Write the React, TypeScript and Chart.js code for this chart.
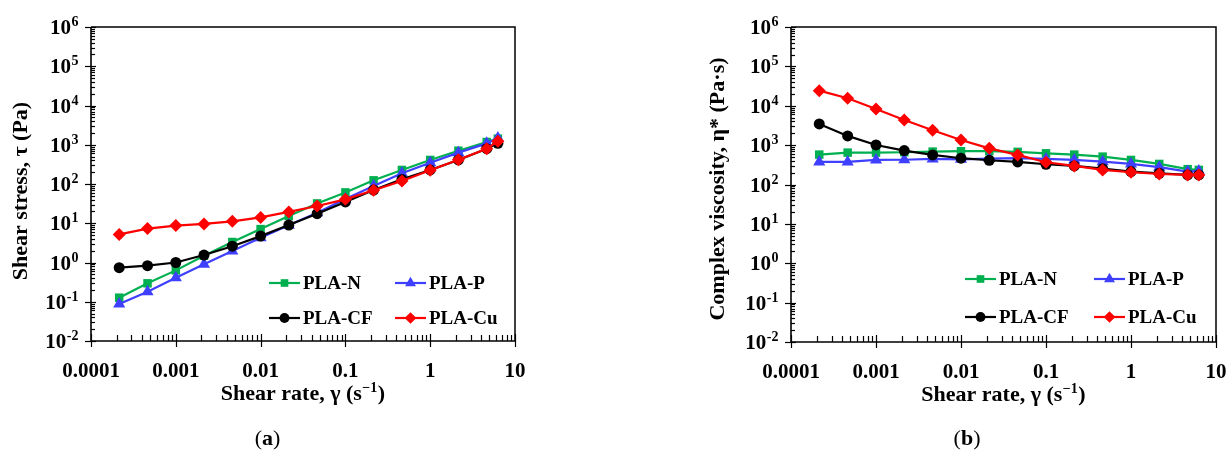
import React, { useEffect, useRef } from "react";
import { Chart, registerables } from "chart.js";
Chart.register(...registerables);

// ---------- data ----------
const shearRate = [0.000215, 0.000464, 0.001, 0.00215, 0.00464, 0.01, 0.0215, 0.0464, 0.1, 0.215, 0.464, 1, 2.15, 4.64, 6.28];

const stressN = [0.127, 0.295, 0.63, 1.49, 3.33, 7.1, 15.3, 32, 61, 124, 228, 410, 705, 1175, 1430];
const stressP = [0.088, 0.18, 0.41, 0.9, 1.96, 4.3, 8.9, 18.6, 41.6, 89, 187, 349, 630, 1085, 1480];
const stressCF = [0.74, 0.83, 1.0, 1.55, 2.6, 4.7, 9.0, 17.5, 35, 70, 131, 228, 410, 795, 1085];
const stressCu = [5.2, 7.3, 8.7, 9.6, 11.2, 14.1, 19.4, 27.5, 40.6, 69, 119, 224, 416, 795, 1225];

const viscN = [575, 645, 645, 660, 685, 700, 700, 675, 620, 575, 510, 420, 333, 245, 235];
const viscP = [375, 375, 420, 425, 445, 435, 455, 465, 445, 420, 380, 333, 275, 213, 221];
const viscCF = [3450, 1715, 1010, 725, 565, 465, 413, 375, 327, 296, 253, 213, 193, 175, 175];
const viscCu = [24200, 15500, 8300, 4370, 2390, 1355, 830, 565, 368, 296, 234, 205, 185, 175, 175];

const seriesNames = ["PLA-N", "PLA-P", "PLA-CF", "PLA-Cu"];
const seriesColors = ["#00B050", "#3F3FFF", "#000000", "#FF0000"];
const pointStyles = ["rect", "triangle", "circle", "rectRot"];
const pointRadii = [6, 7, 5.5, 6.5];

const xTickLabels = ["0.0001", "0.001", "0.01", "0.1", "1", "10"];
const yExponents = [-2, -1, 0, 1, 2, 3, 4, 5, 6];

const SERIF = '"Liberation Serif", "Times New Roman", serif';

// ---------- helpers ----------
function drawMarker(ctx: CanvasRenderingContext2D, style: string, x: number, y: number, r: number, color: string) {
  ctx.save();
  ctx.fillStyle = color;
  ctx.beginPath();
  if (style === "rect") {
    const s = r * Math.SQRT1_2;
    ctx.rect(x - s, y - s, 2 * s, 2 * s);
  } else if (style === "triangle") {
    ctx.moveTo(x, y - r);
    ctx.lineTo(x + r * Math.sin(Math.PI * 2 / 3), y - r * Math.cos(Math.PI * 2 / 3));
    ctx.lineTo(x - r * Math.sin(Math.PI * 2 / 3), y - r * Math.cos(Math.PI * 2 / 3));
    ctx.closePath();
  } else if (style === "circle") {
    ctx.arc(x, y, r, 0, Math.PI * 2);
  } else {
    ctx.moveTo(x, y - r);
    ctx.lineTo(x + r, y);
    ctx.lineTo(x, y + r);
    ctx.lineTo(x - r, y);
    ctx.closePath();
  }
  ctx.fill();
  ctx.restore();
}

type PanelCfg = {
  key: string;
  yTitle: string;
  yTitleX: number;
  yTitleY: number;
  legendCols: number[];
  legendRows: number[];
};

function makePlugin(cfg: PanelCfg) {
  return {
    id: "decor" + cfg.key,
    beforeDatasetsDraw(chart: any) {
      const ctx: CanvasRenderingContext2D = chart.ctx;
      const a = chart.chartArea;
      const xs = chart.scales.x;
      const ys = chart.scales.y;
      ctx.save();
      // frame
      ctx.strokeStyle = "#000";
      ctx.lineWidth = 1.5;
      ctx.beginPath();
      ctx.moveTo(a.left, a.top);
      ctx.lineTo(a.right, a.top);
      ctx.lineTo(a.right, a.bottom);
      ctx.stroke();
      ctx.lineWidth = 1.6;
      ctx.beginPath();
      ctx.moveTo(a.left, a.top);
      ctx.lineTo(a.left, a.bottom);
      ctx.lineTo(a.right, a.bottom);
      ctx.stroke();
      // x ticks
      ctx.lineWidth = 1.2;
      const xMin = xs.min, xMax = xs.max;
      for (let k = Math.floor(Math.log10(xMin)); k <= Math.ceil(Math.log10(xMax)); k++) {
        for (let m = 1; m <= 9; m++) {
          const v = m * Math.pow(10, k);
          if (v < xMin * 0.999 || v > xMax * 1.001) continue;
          const px = Math.round(xs.getPixelForValue(v)) + 0.5;
          ctx.beginPath();
          if (m === 1) {
            ctx.moveTo(px, a.bottom - 7);
            ctx.lineTo(px, a.bottom + 6);
          } else {
            ctx.moveTo(px, a.bottom - 6);
            ctx.lineTo(px, a.bottom);
          }
          ctx.stroke();
        }
      }
      // y ticks
      const yMin = ys.min, yMax = ys.max;
      for (let k = Math.floor(Math.log10(yMin)); k <= Math.ceil(Math.log10(yMax)); k++) {
        for (let m = 1; m <= 9; m++) {
          const v = m * Math.pow(10, k);
          if (v < yMin * 0.999 || v > yMax * 1.001) continue;
          const py = Math.round(ys.getPixelForValue(v)) + 0.5;
          ctx.beginPath();
          if (m === 1) {
            ctx.moveTo(a.left - 6, py);
            ctx.lineTo(a.left + 5, py);
          } else {
            ctx.moveTo(a.left, py);
            ctx.lineTo(a.left + 4, py);
          }
          ctx.stroke();
        }
      }
      ctx.restore();
    },
    afterDraw(chart: any) {
      const ctx: CanvasRenderingContext2D = chart.ctx;
      const a = chart.chartArea;
      const xs = chart.scales.x;
      const ys = chart.scales.y;
      ctx.save();
      ctx.fillStyle = "#000";
      // x tick labels
      ctx.font = `bold 21px ${SERIF}`;
      ctx.textAlign = "center";
      ctx.textBaseline = "middle";
      xTickLabels.forEach((lab) => {
        const px = xs.getPixelForValue(Number(lab));
        ctx.fillText(lab, px, a.bottom + 31);
      });
      // y tick labels
      yExponents.forEach((e) => {
        const py = ys.getPixelForValue(Math.pow(10, e));
        const expStr = e < 0 ? "-" + Math.abs(e) : String(e);
        ctx.font = `bold 21px ${SERIF}`;
        const wb = ctx.measureText("10").width;
        ctx.font = `bold 14px ${SERIF}`;
        const we = ctx.measureText(expStr).width;
        const right = a.left - 13;
        const x0 = right - we - wb;
        ctx.textAlign = "left";
        ctx.textBaseline = "alphabetic";
        ctx.font = `bold 21px ${SERIF}`;
        ctx.fillText("10", x0, py + 7);
        ctx.font = `bold 14px ${SERIF}`;
        ctx.fillText(expStr, x0 + wb + 0.5, py - 1);
      });
      // x title with superscript
      {
        const p1 = "Shear rate, \u03B3 (s";
        const p2 = "\u22121";
        const p3 = ")";
        ctx.font = `bold 22px ${SERIF}`;
        const w1 = ctx.measureText(p1).width;
        const w3 = ctx.measureText(p3).width;
        ctx.font = `bold 14px ${SERIF}`;
        const w2 = ctx.measureText(p2).width;
        const total = w1 + w2 + w3 + 1;
        const cx = (a.left + a.right) / 2;
        let x = cx - total / 2;
        const base = a.bottom + 59;
        ctx.textAlign = "left";
        ctx.textBaseline = "alphabetic";
        ctx.font = `bold 22px ${SERIF}`;
        ctx.fillText(p1, x, base);
        x += w1 + 0.5;
        ctx.font = `bold 14px ${SERIF}`;
        ctx.fillText(p2, x, base - 8);
        x += w2 + 0.5;
        ctx.font = `bold 22px ${SERIF}`;
        ctx.fillText(p3, x, base);
      }
      // y title
      ctx.save();
      ctx.translate(cfg.yTitleX, cfg.yTitleY);
      ctx.rotate(-Math.PI / 2);
      ctx.font = `bold 22px ${SERIF}`;
      ctx.textAlign = "center";
      ctx.textBaseline = "middle";
      ctx.fillText(cfg.yTitle, 0, 0);
      ctx.restore();
      // legend
      const order = [0, 1, 2, 3];
      order.forEach((i) => {
        const col = i % 2;
        const row = Math.floor(i / 2);
        const lx = cfg.legendCols[col];
        const ly = cfg.legendRows[row];
        const ds = chart.data.datasets[i];
        ctx.strokeStyle = ds.borderColor;
        ctx.lineWidth = 2.2;
        ctx.beginPath();
        ctx.moveTo(lx, ly);
        ctx.lineTo(lx + 31, ly);
        ctx.stroke();
        drawMarker(ctx, pointStyles[i], lx + 15.5, ly, pointRadii[i] * 0.9, seriesColors[i]);
        ctx.fillStyle = "#000";
        ctx.font = `bold 19px ${SERIF}`;
        ctx.textAlign = "left";
        ctx.textBaseline = "middle";
        ctx.fillText(ds.label, lx + 34, ly + 1);
      });
      ctx.restore();
    },
  };
}

type PanelProps = {
  left: number;
  width: number;
  padding: { left: number; right: number; top: number; bottom: number };
  series: number[][];
  cfg: PanelCfg;
};

function Panel({ left, width, padding, series, cfg }: PanelProps) {
  const ref = useRef<HTMLCanvasElement | null>(null);
  useEffect(() => {
    if (!ref.current) return;
    const datasets = series.map((vals, i) => ({
      label: seriesNames[i],
      data: shearRate.map((x, j) => ({ x, y: vals[j] })),
      borderColor: seriesColors[i],
      backgroundColor: seriesColors[i],
      pointBackgroundColor: seriesColors[i],
      pointBorderColor: seriesColors[i],
      pointStyle: pointStyles[i],
      pointRadius: pointRadii[i],
      pointBorderWidth: 0,
      borderWidth: 2.2,
      showLine: true,
      tension: 0,
      order: 3 - i,
    }));
    const chart = new Chart(ref.current, {
      type: "scatter",
      data: { datasets },
      options: {
        animation: false,
        responsive: false,
        devicePixelRatio: 1,
        layout: { padding },
        plugins: { legend: { display: false }, tooltip: { enabled: false } },
        scales: {
          x: { type: "logarithmic", min: 1e-4, max: 10, display: false },
          y: { type: "logarithmic", min: 1e-2, max: 1e6, display: false },
        },
      },
      plugins: [makePlugin(cfg)],
    } as any);
    return () => chart.destroy();
  }, []);
  return (
    <canvas
      ref={ref}
      width={width}
      height={451}
      style={{ position: "absolute", left, top: 0, width, height: 451 }}
    />
  );
}

const captionStyle: React.CSSProperties = {
  position: "absolute",
  top: 438,
  transform: "translate(-50%, -50%)",
  fontFamily: SERIF,
  fontSize: 22,
  color: "#000",
  whiteSpace: "nowrap",
};

export default function App() {
  return (
    <div style={{ position: "fixed", left: 0, top: 0, width: 1228, height: 451, background: "#fff", overflow: "hidden" }}>
      <Panel
        left={0}
        width={614}
        padding={{ left: 91, right: 99, top: 27, bottom: 110 }}
        series={[stressN, stressP, stressCF, stressCu]}
        cfg={{
          key: "a",
          yTitle: "Shear stress, \u03C4 (Pa)",
          yTitleX: 21,
          yTitleY: 191,
          legendCols: [269, 395],
          legendRows: [283, 318],
        }}
      />
      <Panel
        left={614}
        width={614}
        padding={{ left: 177, right: 12, top: 27, bottom: 109 }}
        series={[viscN, viscP, viscCF, viscCu]}
        cfg={{
          key: "b",
          yTitle: "Complex viscosity, \u03B7* (Pa\u00B7s)",
          yTitleX: 104,
          yTitleY: 189,
          legendCols: [351, 480],
          legendRows: [279, 317],
        }}
      />
      <div style={{ ...captionStyle, left: 267.5 }}>
        (<b>a</b>)
      </div>
      <div style={{ ...captionStyle, left: 967 }}>
        (<b>b</b>)
      </div>
    </div>
  );
}
